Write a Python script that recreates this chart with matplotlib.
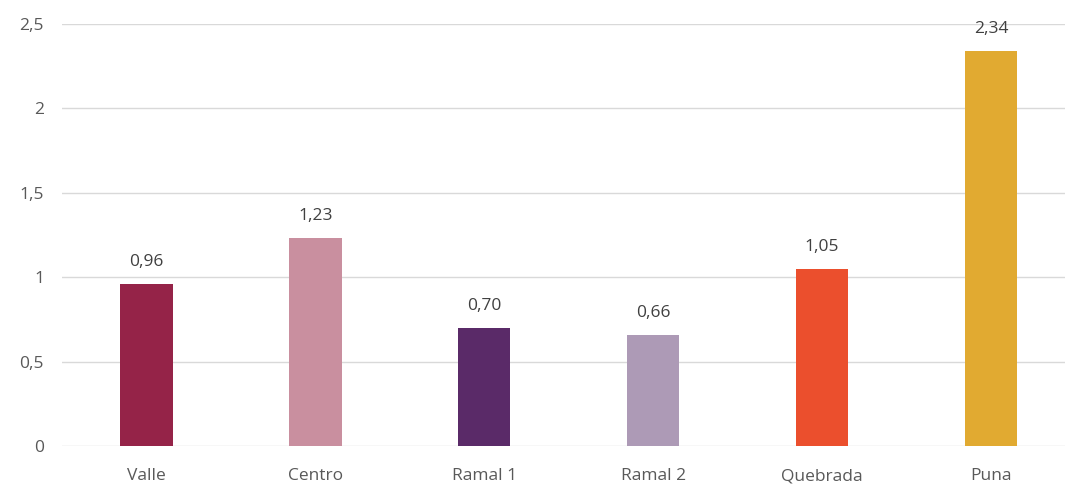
import matplotlib.pyplot as plt
from matplotlib.ticker import FuncFormatter

regiones = ['Valle', 'Centro', 'Ramal 1', 'Ramal 2', 'Quebrada', 'Puna']
valores = [0.96, 1.23, 0.70, 0.66, 1.05, 2.34]
colores = ['#952348', '#C98F9F', '#5A2A68', '#AD9AB6', '#EB4F2D', '#E1AA31']

plt.rcParams['font.family'] = ['Open Sans', 'DejaVu Sans']

fig = plt.figure(figsize=(10.65, 4.88), dpi=100)
ax = fig.add_axes([62 / 1065, 42 / 488, 1003 / 1065, 422 / 488])

x = list(range(len(regiones)))
ax.bar(x, valores, width=0.31, color=colores, zorder=2)
ax.set_xlim(-0.5, -0.5 + 1003 / 168.9)
ax.set_ylim(0, 2.5)
ax.set_yticks([0, 0.5, 1, 1.5, 2, 2.5])
ax.yaxis.set_major_formatter(FuncFormatter(lambda v, p: f'{v:g}'.replace('.', ',')))
ax.set_xticks(x)
ax.set_xticklabels(regiones)

ax.grid(axis='y', color='#D9D9D9', linewidth=1, zorder=0)
for s in ax.spines.values():
    s.set_visible(False)
ax.tick_params(axis='both', length=0, labelsize=12.5, labelcolor='#595959')
ax.tick_params(axis='y', pad=13)
ax.tick_params(axis='x', pad=16)

# etiquetas de valor sobre cada barra
for xi, v in zip(x, valores):
    ax.annotate(f'{v:.2f}'.replace('.', ','), (xi, v), xytext=(0, 10),
                textcoords='offset points', ha='center', va='bottom',
                fontsize=12.5, color='#404040', annotation_clip=False)

fig.savefig('out.png', dpi=100)
